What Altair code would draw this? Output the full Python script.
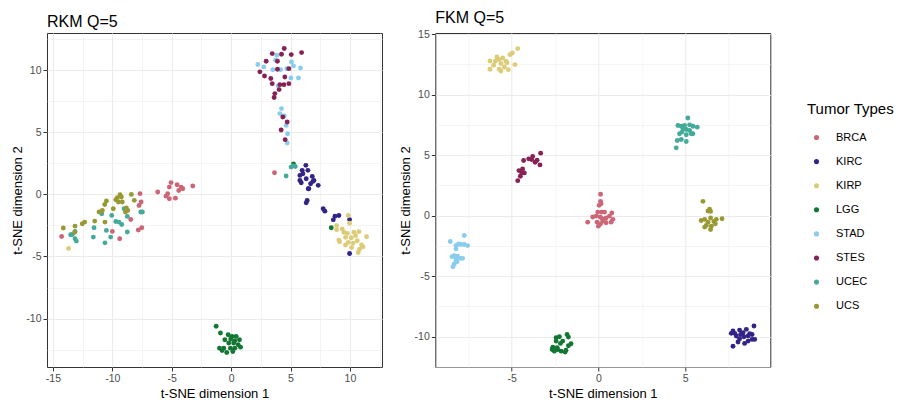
import altair as alt
import pandas as pd

TYPES = ["BRCA", "KIRC", "KIRP", "LGG", "STAD", "STES", "UCEC", "UCS"]
COLORS = ["#CC6677", "#332288", "#DDCC77", "#117733", "#88CCEE", "#882255", "#44AA99", "#999933"]

# ---- RKM Q=5 embedding: (t-SNE 1, t-SNE 2) per tumour type ----
rkm_brca = [(-6.18, 0.19), (-5.06, 0.95), (-5.20, 0.59), (-4.55, 0.78), (-4.21, 0.59), (-4.41, 0.32),
            (-4.07, 0.46), (-3.23, 0.68), (-5.34, 0.05), (-5.20, -0.35), (-4.69, -0.30), (-5.48, -0.14),
            (-7.67, 0.06), (-7.58, -0.61), (-7.75, -0.89), (-8.45, -2.02), (-7.52, -2.69), (-7.81, -2.87),
            (-10.0, -2.98), (-9.38, -3.57), (-14.27, -3.39), (3.65, 1.75)]
rkm_kirc = [(6.29, 2.34), (5.98, 1.94), (5.79, 1.53), (6.04, 1.67), (6.46, 1.94), (6.83, 1.45), (6.97, 1.13),
            (5.79, 1.13), (6.32, 1.26), (6.69, 0.86), (5.90, 0.94), (7.33, 0.73), (6.54, 0.46), (6.88, 1.05),
            (6.49, 0.46), (6.40, -0.49), (6.32, -0.68), (7.75, -1.16), (7.89, -1.35), (8.74, -1.76),
            (9.07, -1.70), (8.60, -2.05), (9.97, -2.03), (9.97, -4.76)]
rkm_kirp = [(9.86, -1.70), (9.97, -2.32), (8.88, -2.51), (8.88, -2.84), (9.49, -3.05), (9.78, -3.14),
            (10.34, -3.05), (10.76, -3.00), (9.07, -3.68), (9.13, -3.81), (9.63, -3.46), (10.11, -3.49),
            (10.62, -3.73), (10.98, -4.08), (11.40, -3.41), (10.28, -3.92), (9.63, -4.08), (10.14, -4.27),
            (10.81, -4.41), (11.10, -4.22), (10.70, -4.68), (9.86, -3.86), (10.48, -3.32), (9.35, -2.78),
            (-13.68, -4.35)]
rkm_lgg = [(-1.26, -10.62), (-0.90, -11.16), (-0.25, -11.30), (0.08, -11.43), (0.42, -11.43), (0.70, -11.70),
           (-0.53, -11.70), (-0.20, -11.97), (0.22, -11.97), (0.59, -12.11), (-0.98, -12.38), (-0.62, -12.38),
           (-0.06, -12.38), (0.31, -12.38), (0.79, -12.30), (-0.76, -12.57), (-0.37, -12.73), (0.14, -12.65),
           (0.31, -11.78), (-0.03, -11.65), (8.43, -2.68), (5.25, 2.45)]
rkm_stad = [(2.25, 10.46), (2.75, 10.27), (3.74, 10.81), (3.85, 11.21), (3.51, 10.05), (4.16, 10.05),
            (5.08, 10.67), (5.25, 10.35), (4.69, 10.13), (5.03, 9.38), (5.67, 9.38), (5.84, 10.19),
            (3.96, 8.74), (4.24, 6.91), (4.10, 6.51), (4.47, 6.32), (4.63, 5.56), (4.75, 4.89), (4.72, 4.14)]
rkm_stes = [(3.46, 11.34), (4.24, 11.29), (4.47, 11.75), (5.06, 11.26), (5.93, 11.42), (2.95, 10.73),
            (3.90, 10.73), (2.42, 9.87), (2.81, 9.54), (3.34, 9.33), (3.90, 10.08), (4.86, 10.13),
            (4.52, 9.46), (3.46, 8.92), (4.10, 8.84), (4.44, 8.84), (4.86, 8.92), (4.04, 8.44),
            (3.68, 8.12), (3.62, 7.80), (4.35, 6.24), (4.72, 5.83), (4.21, 5.19), (4.55, 4.41)]
rkm_ucec = [(-13.37, -3.23), (-13.51, -3.25), (-13.14, -3.57), (-13.03, -3.76), (-13.14, -2.98),
            (-11.54, -2.69), (-11.60, -3.44), (-10.50, -2.90), (-10.62, -3.90), (-10.14, -3.44),
            (-10.89, -1.56), (-10.05, -1.69), (-9.71, -2.18), (-9.44, -2.23), (-9.21, -2.42), (-9.01, -1.15),
            (-8.74, -1.77), (-8.74, -3.03), (-7.61, -1.42), (-7.47, -1.42),
            (5.20, 2.30), (5.05, 2.20), (5.40, 2.25), (4.63, 1.48)]
rkm_ucs = [(-14.13, -2.71), (-13.14, -2.55), (-12.53, -2.36), (-12.33, -2.23), (-11.48, -2.15),
           (-10.62, -2.23), (-11.12, -1.42), (-10.84, -1.29), (-10.64, -0.81), (-10.50, -0.53),
           (-9.92, -1.15), (-9.71, -0.43), (-9.58, -0.27), (-9.35, -0.02), (-9.24, -0.21), (-9.49, -0.61),
           (-9.16, -0.61), (-8.82, -1.10), (-8.70, -1.29), (-8.90, -1.42), (-8.40, 0.00), (-8.15, -0.48),
           (-13.17, -3.05)]

# ---- FKM Q=5 embedding ----
fkm_brca = [(0.12, 1.77), (0.12, 1.19), (0.15, 1.00), (0.04, 0.86), (-0.04, 0.30), (0.19, 0.30), (0.35, 0.30),
            (0.77, 0.22), (-0.33, -0.11), (-0.13, -0.03), (0.10, -0.11), (0.21, -0.25), (0.44, -0.19),
            (0.63, -0.03), (0.83, -0.30), (-0.62, -0.53), (-0.08, -0.53), (0.27, -0.44), (0.73, -0.53),
            (0.12, -0.66), (0.00, -0.86), (0.44, -0.58)]
fkm_kirc = [(7.75, -9.53), (7.85, -9.72), (8.13, -9.45), (8.33, -9.67), (8.52, -9.39), (8.71, -9.75),
            (8.96, -9.11), (8.62, -9.94), (8.85, -10.22), (8.38, -10.00), (8.13, -10.17), (7.94, -9.94),
            (8.04, -10.44), (7.75, -10.78), (8.42, -10.55), (9.00, -10.22), (8.62, -10.36), (7.65, -9.72),
            (8.19, -9.81), (8.85, -9.81)]
fkm_kirp = [(-6.25, 12.79), (-6.04, 12.43), (-5.85, 13.12), (-5.71, 12.90), (-5.62, 12.57), (-5.52, 13.04),
            (-5.33, 12.76), (-5.42, 12.29), (-5.19, 12.07), (-5.10, 13.31), (-4.96, 13.45), (-4.81, 12.49),
            (-4.65, 13.81), (-6.25, 12.10), (-5.71, 12.10), (-5.62, 11.96), (-5.94, 12.76), (-5.27, 12.65)]
fkm_lgg = [(-2.44, -10.08), (-2.25, -10.00), (-2.44, -10.36), (-2.63, -10.86), (-1.81, -9.81), (-1.73, -10.03),
           (-2.06, -10.36), (-2.19, -10.55), (-1.58, -10.58), (-2.67, -11.05), (-2.35, -11.05), (-2.15, -11.19),
           (-1.92, -11.27), (-2.54, -11.19), (-2.38, -10.91), (-1.87, -11.11), (-1.73, -10.75)]
fkm_stad = [(-7.73, -1.63), (-8.54, -2.13), (-8.21, -2.47), (-8.06, -2.33), (-7.92, -2.38), (-7.73, -2.38),
            (-7.54, -2.47), (-8.21, -2.74), (-8.44, -3.38), (-8.31, -3.30), (-8.12, -3.35), (-7.96, -3.52),
            (-7.83, -3.52), (-8.21, -3.66), (-8.31, -3.99), (-8.38, -4.21), (-8.15, -3.80)]
fkm_stes = [(-4.65, 2.90), (-4.50, 3.26), (-4.58, 3.73), (-4.42, 3.54), (-4.27, 3.54), (-4.37, 3.87),
            (-4.31, 4.56), (-4.02, 4.70), (-3.79, 4.89), (-3.65, 4.42), (-3.54, 4.59), (-3.33, 5.17),
            (-3.37, 4.20), (-3.85, 4.64)]
fkm_ucec = [(5.15, 8.07), (4.58, 7.46), (4.77, 7.40), (4.96, 7.46), (5.25, 7.51), (5.44, 7.40), (5.69, 7.32),
            (4.87, 7.18), (5.06, 7.13), (5.25, 7.04), (5.35, 6.77), (4.81, 6.91), (4.67, 6.77), (5.06, 6.69),
            (4.54, 6.22), (4.77, 6.30), (5.06, 6.13), (4.48, 5.61), (5.44, 6.77)]
fkm_ucs = [(6.02, 1.19), (6.40, 0.53), (6.46, 0.36), (6.31, 0.39), (5.92, -0.39), (6.12, -0.30), (6.31, -0.53),
           (6.46, -0.19), (6.65, -0.47), (6.79, -0.30), (7.12, -0.25), (6.21, -0.80), (6.50, -0.86),
           (6.73, -0.66), (6.46, -1.14), (6.12, -0.94)]

RKM = dict(zip(TYPES, [rkm_brca, rkm_kirc, rkm_kirp, rkm_lgg, rkm_stad, rkm_stes, rkm_ucec, rkm_ucs]))
FKM = dict(zip(TYPES, [fkm_brca, fkm_kirc, fkm_kirp, fkm_lgg, fkm_stad, fkm_stes, fkm_ucec, fkm_ucs]))

FONT = "Liberation Sans"


def to_frame(groups):
    rows = [{"x": x, "y": y, "type": t} for t, pts in groups.items() for x, y in pts]
    return pd.DataFrame(rows)


def grid_axis(title, values, title_pad):
    # ticks every 2.5: major ones (multiples of 5) labelled, minor ones grid-only
    minor = "datum.value % 5 !== 0"
    return alt.Axis(
        title=title,
        values=values,
        labelExpr=f"{minor} ? '' : (datum.value + '')",
        tickOpacity={"condition": {"test": minor, "value": 0}, "value": 1},
        gridWidth={"condition": {"test": minor, "value": 0.55}, "value": 1.1},
        gridColor="#EBEBEB",
        tickColor="#333333",
        tickSize=4,
        domain=False,
        labelPadding=2,
        labelFontSize=10.5,
        labelColor="#4D4D4D",
        labelFont=FONT,
        titleFont=FONT,
        titleFontSize=13,
        titleFontWeight="normal",
        titleColor="#000000",
        titlePadding=title_pad,
    )


def panel(groups, title, xdom, ydom, xvals, yvals):
    return (
        alt.Chart(to_frame(groups), title=alt.Title(title, anchor="start", frame="group", fontSize=16,
                                                    fontWeight="normal", font=FONT, offset=3))
        .mark_circle(size=24, opacity=1)
        .encode(
            x=alt.X("x:Q", scale=alt.Scale(domain=xdom, nice=False, zero=False),
                    axis=grid_axis("t-SNE dimension 1", xvals, 4)),
            y=alt.Y("y:Q", scale=alt.Scale(domain=ydom, nice=False, zero=False),
                    axis=grid_axis("t-SNE dimension 2", yvals, 1.7)),
            color=alt.Color(
                "type:N",
                scale=alt.Scale(domain=TYPES, range=COLORS),
                legend=alt.Legend(
                    title="Tumor Types", orient="none", legendX=760, legendY=69,
                    titleFontSize=15, titleFontWeight="normal", titleFont=FONT, titleColor="#000000",
                    titlePadding=15, labelFontSize=11, labelFont=FONT, labelColor="#000000",
                    symbolType="circle", symbolSize=26, symbolStrokeWidth=0, symbolOffset=4,
                    labelOffset=14, rowPadding=12.1,
                ),
            ),
        )
        .properties(width=335, height=334, view=alt.ViewBackground(stroke="#333333", strokeWidth=1))
    )


rkm_x = [-15, -12.5, -10, -7.5, -5, -2.5, 0, 2.5, 5, 7.5, 10, 12.5]
rkm_y = [-12.5, -10, -7.5, -5, -2.5, 0, 2.5, 5, 7.5, 10, 12.5]
fkm_x = [-7.5, -5, -2.5, 0, 2.5, 5, 7.5]
fkm_y = [-12.5, -10, -7.5, -5, -2.5, 0, 2.5, 5, 7.5, 10, 12.5, 15]

left = panel(RKM, "RKM Q=5", [-15.5, 12.7], [-13.9, 13.0], rkm_x, rkm_y)
right = panel(FKM, "FKM Q=5", [-9.4, 9.9], [-12.5, 15.1], fkm_x, fkm_y)

chart = (
    alt.hconcat(left, right, spacing=15.3)
    .properties(padding={"left": 10, "top": 9, "right": 0, "bottom": 0})
    .configure(background="#FFFFFF")
    .configure_view(stroke="#333333", strokeWidth=1)
)

chart.save("out.html", embed_options={"renderer": "svg", "actions": False})
